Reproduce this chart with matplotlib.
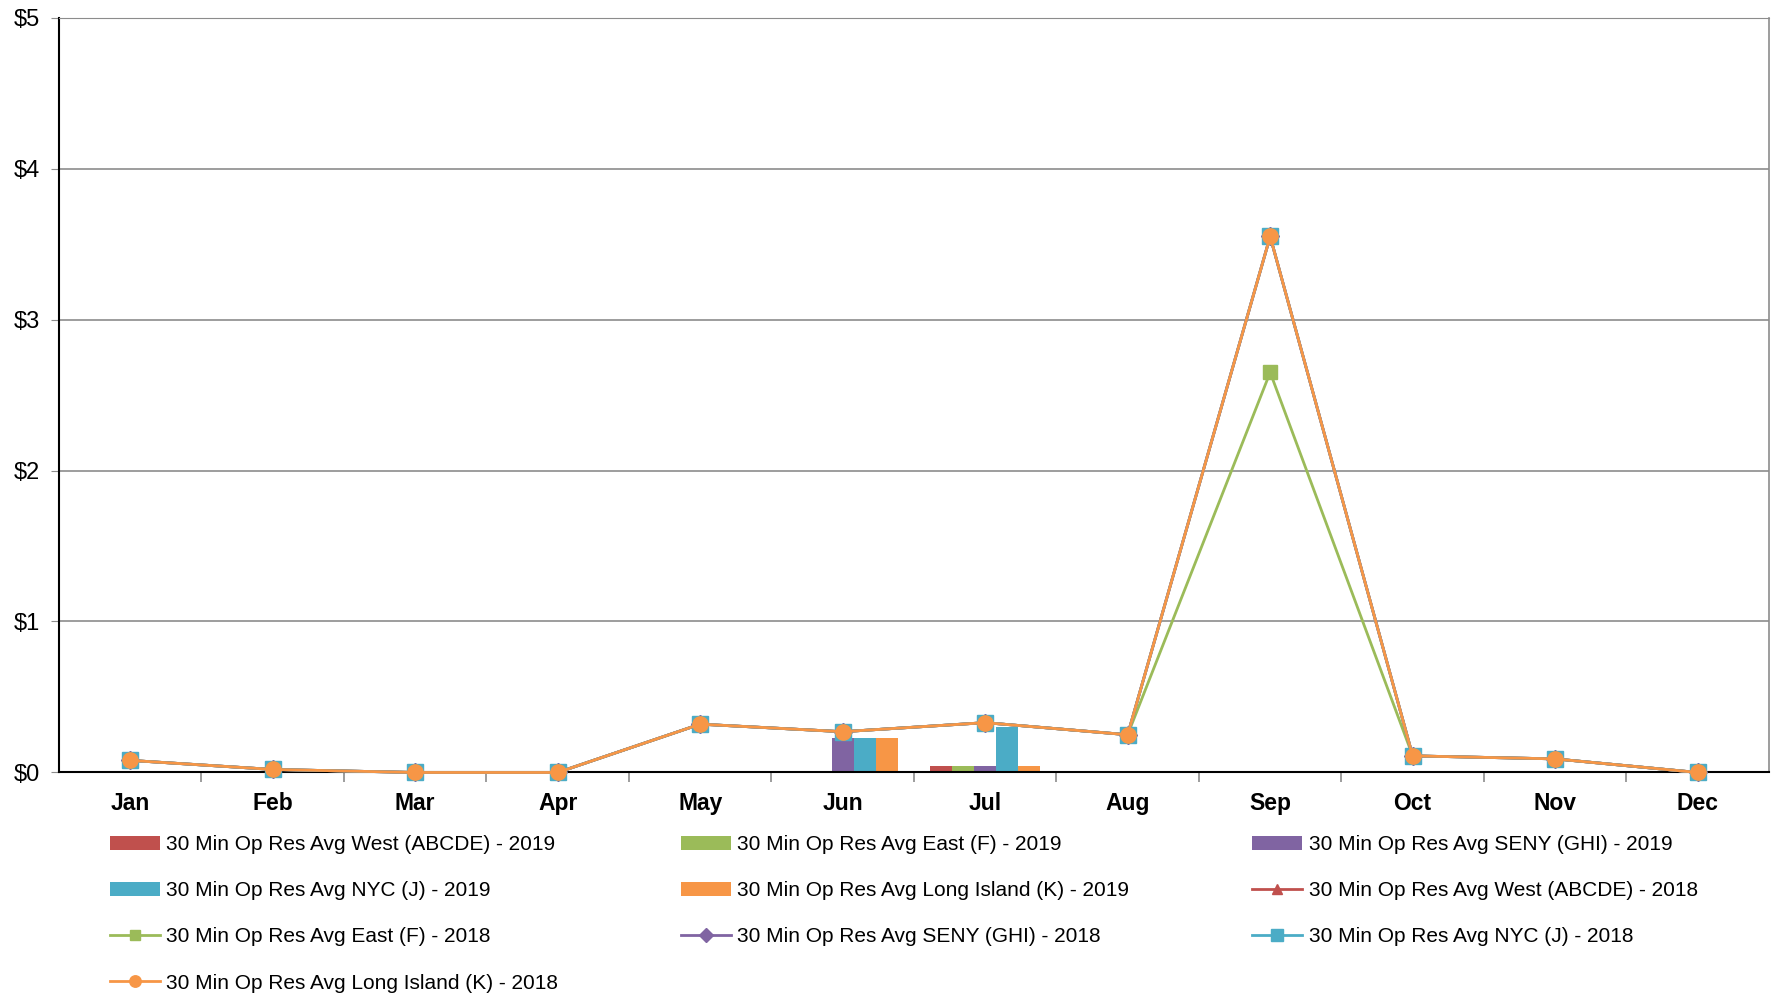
import numpy as np
import matplotlib
matplotlib.use("Agg")
import matplotlib.pyplot as plt
from matplotlib.ticker import FixedLocator

plt.rcParams["font.family"] = ["Liberation Sans", "DejaVu Sans"]

months = ["Jan", "Feb", "Mar", "Apr", "May", "Jun", "Jul", "Aug", "Sep", "Oct", "Nov", "Dec"]

# 2019 bars
west_2019 = [0, 0, 0, 0, 0, 0, 0.04, 0, 0, 0, 0, 0]
east_2019 = [0, 0, 0, 0, 0, 0, 0.04, 0, 0, 0, 0, 0]
seny_2019 = [0, 0, 0, 0, 0, 0.23, 0.04, 0, 0, 0, 0, 0]
nyc_2019 = [0, 0, 0, 0, 0, 0.23, 0.30, 0, 0, 0, 0, 0]
li_2019 = [0, 0, 0, 0, 0, 0.23, 0.04, 0, 0, 0, 0, 0]

# 2018 lines
west_2018 = [0.08, 0.02, 0.0, 0.0, 0.32, 0.27, 0.33, 0.25, 3.55, 0.11, 0.09, 0.0]
east_2018 = [0.08, 0.02, 0.0, 0.0, 0.32, 0.27, 0.33, 0.25, 2.65, 0.11, 0.09, 0.0]
seny_2018 = [0.08, 0.02, 0.0, 0.0, 0.32, 0.27, 0.33, 0.25, 3.55, 0.11, 0.09, 0.0]
nyc_2018 = [0.08, 0.02, 0.0, 0.0, 0.32, 0.27, 0.33, 0.25, 3.55, 0.11, 0.09, 0.0]
li_2018 = [0.08, 0.02, 0.0, 0.0, 0.32, 0.27, 0.33, 0.25, 3.55, 0.11, 0.09, 0.0]

red = "#C0504D"
green = "#9BBB59"
purple = "#8064A2"
blue = "#4BACC6"
orange = "#F79646"

fig = plt.figure(figsize=(17.76, 9.97), dpi=100)
ax = fig.add_axes([0.0332, 0.2252, 0.9628, 0.7572])

x = np.arange(len(months))
w = 0.154
bars = [
    (west_2019, red, "30 Min Op Res Avg West (ABCDE) - 2019"),
    (east_2019, green, "30 Min Op Res Avg East (F) - 2019"),
    (seny_2019, purple, "30 Min Op Res Avg SENY (GHI) - 2019"),
    (nyc_2019, blue, "30 Min Op Res Avg NYC (J) - 2019"),
    (li_2019, orange, "30 Min Op Res Avg Long Island (K) - 2019"),
]
h = {}
for i, (vals, c, lab) in enumerate(bars):
    h[lab] = ax.bar(x + (i - 2) * w, vals, width=w, color=c, label=lab, zorder=2)

lines = [
    (west_2018, red, "^", 10, "30 Min Op Res Avg West (ABCDE) - 2018"),
    (east_2018, green, "s", 10, "30 Min Op Res Avg East (F) - 2018"),
    (seny_2018, purple, "D", 9, "30 Min Op Res Avg SENY (GHI) - 2018"),
    (nyc_2018, blue, "s", 11, "30 Min Op Res Avg NYC (J) - 2018"),
    (li_2018, orange, "o", 11, "30 Min Op Res Avg Long Island (K) - 2018"),
]
for vals, c, m, ms, lab in lines:
    h[lab], = ax.plot(x, vals, color=c, marker=m, markersize=ms, linewidth=2,
                      label=lab, zorder=3, clip_on=False)

ax.set_xlim(-0.5, 11.5)
ax.set_ylim(0, 5)
ax.set_yticks([0, 1, 2, 3, 4, 5])
ax.set_yticklabels(["$0", "$1", "$2", "$3", "$4", "$5"], fontsize=17)
ax.yaxis.grid(True, color="#8c8c8c", linewidth=1.2, zorder=0)
ax.tick_params(axis="y", length=6, color="#8c8c8c", pad=8)

ax.set_xticks(x)
ax.set_xticklabels(months, fontsize=16.5, fontweight="bold")
ax.tick_params(axis="x", which="major", length=0, pad=14)
ax.xaxis.set_minor_locator(FixedLocator(np.arange(0.5, 11.5, 1)))
ax.tick_params(axis="x", which="minor", length=7, color="#8c8c8c", width=1.2)

ax.spines["left"].set_color("black")
ax.spines["left"].set_linewidth(1.5)
ax.spines["bottom"].set_color("black")
ax.spines["bottom"].set_linewidth(1.5)
ax.spines["top"].set_color("#8c8c8c")
ax.spines["right"].set_color("#8c8c8c")
ax.spines["right"].set_linewidth(1.2)

order = [
    "30 Min Op Res Avg West (ABCDE) - 2019",
    "30 Min Op Res Avg NYC (J) - 2019",
    "30 Min Op Res Avg East (F) - 2018",
    "30 Min Op Res Avg Long Island (K) - 2018",
    "30 Min Op Res Avg East (F) - 2019",
    "30 Min Op Res Avg Long Island (K) - 2019",
    "30 Min Op Res Avg SENY (GHI) - 2018",
    "30 Min Op Res Avg SENY (GHI) - 2019",
    "30 Min Op Res Avg West (ABCDE) - 2018",
    "30 Min Op Res Avg NYC (J) - 2018",
]
leg = fig.legend([h[k] for k in order], order, ncol=3, loc="upper left",
                 bbox_to_anchor=(0.0514, 0.181), frameon=False, fontsize=15,
                 handlelength=2.4, handletextpad=0.3, columnspacing=5.9,
                 labelspacing=1.3, markerscale=0.75)

fig.savefig("out.png", dpi=100)
